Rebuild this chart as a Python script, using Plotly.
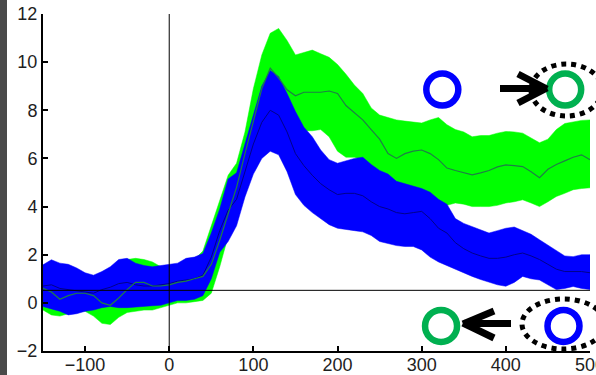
import plotly.graph_objects as go

# ---------------- data ----------------
t = list(range(-150, 501, 10))

blue_upper = [1.58, 1.79, 1.65, 1.6, 1.45, 1.25, 1.15, 1.3, 1.5, 1.8,
              1.85, 1.65, 1.55, 1.5, 1.55, 1.6, 1.65, 1.85, 1.9, 2.05,
              2.9, 3.9, 5.15, 5.4, 6.6, 7.8, 9.0, 9.65, 9.4, 8.7,
              7.95, 7.3, 6.9, 6.35, 5.95, 5.8, 5.9, 6.0, 6.05, 5.75,
              5.5, 5.35, 5.05, 4.95, 4.85, 4.75, 4.6, 4.3, 4.1, 3.5,
              3.3, 3.17, 3.05, 2.9, 3.0, 3.1, 3.15, 3.0, 2.85, 2.62,
              2.4, 2.15, 1.95, 1.92, 2.0, 2.0]
blue_lower = [-0.15, -0.25, -0.35, -0.5, -0.45, -0.35, -0.3, -0.2, -0.15, -0.2,
              -0.2, -0.15, -0.15, -0.12, -0.1, 0.0, 0.1, 0.1, 0.15, 0.3,
              1.0, 2.1, 2.55, 3.2, 4.4, 5.35, 6.0, 6.3, 6.15, 5.45,
              4.5, 4.05, 3.75, 3.5, 3.25, 3.1, 3.05, 3.0, 2.95, 2.8,
              2.55, 2.45, 2.38, 2.34, 2.34, 2.2, 1.9, 1.7, 1.55, 1.4,
              1.25, 1.1, 0.97, 0.85, 0.75, 0.69, 0.85, 1.1, 1.0, 0.95,
              0.75, 0.55, 0.6, 0.68, 0.6, 0.55]
blue_mean = [0.7, 0.75, 0.6, 0.55, 0.5, 0.45, 0.4, 0.55, 0.65, 0.8,
             0.85, 0.75, 0.7, 0.7, 0.75, 0.8, 0.9, 0.95, 1.0, 1.15,
             1.9, 3.0, 3.85, 4.3, 5.5, 6.6, 7.5, 8.0, 7.8, 7.1,
             6.2, 5.7, 5.3, 4.95, 4.7, 4.5, 4.55, 4.55, 4.45, 4.2,
             4.0, 3.9, 3.75, 3.7, 3.75, 3.8, 3.5, 3.1, 2.9, 2.5,
             2.25, 2.07, 1.95, 1.85, 1.85, 1.9, 2.0, 2.07, 1.95, 1.8,
             1.6, 1.4, 1.3, 1.3, 1.3, 1.25]

green_upper = [1.4, 1.5, 1.45, 1.3, 1.25, 1.15, 1.1, 1.2, 1.4, 1.5,
               1.8, 1.85, 1.8, 1.7, 1.5, 1.55, 1.6, 1.7, 1.8, 2.15,
               3.2, 4.3, 5.3, 5.8, 7.1, 8.9, 10.3, 11.2, 11.4, 10.9,
               10.3, 10.4, 10.5, 10.35, 10.2, 9.9, 9.5, 9.05, 8.7, 8.1,
               7.8, 7.7, 7.6, 7.55, 7.5, 7.47, 7.6, 7.7, 7.4, 7.2,
               7.1, 6.9, 6.95, 6.95, 7.05, 7.12, 7.1, 7.05, 6.85, 6.65,
               6.8, 7.2, 7.45, 7.53, 7.58, 7.6]
green_lower = [-0.3, -0.5, -0.55, -0.45, -0.35, -0.35, -0.55, -0.85, -0.9, -0.6,
               -0.4, -0.35, -0.3, -0.3, -0.2, -0.1, 0.0, 0.0, 0.05, 0.1,
               0.4, 1.5, 2.8, 4.0, 5.3, 6.5, 7.4, 7.8, 7.7, 7.4,
               7.2, 7.15, 7.15, 7.2, 6.9, 6.3, 6.05, 6.05, 5.95, 5.7,
               5.35, 5.2, 4.9, 4.85, 4.75, 4.65, 4.5, 4.25, 4.05, 4.15,
               4.1, 4.0, 4.0, 4.0, 4.05, 4.15, 4.2, 4.28, 4.15, 4.0,
               4.2, 4.42, 4.55, 4.7, 4.75, 4.78]
green_mean = [0.6, 0.45, 0.15, 0.3, 0.4, 0.4, 0.3, 0.0, -0.1, 0.2,
              0.55, 0.85, 0.85, 0.7, 0.7, 0.75, 0.85, 0.9, 1.0, 1.1,
              1.6, 2.6, 3.7, 4.8, 6.2, 7.6, 8.9, 9.75, 9.35, 8.85,
              8.6, 8.75, 8.75, 8.75, 8.8, 8.7, 8.2, 7.9, 7.6, 7.2,
              6.8, 6.2, 6.0, 6.2, 6.3, 6.35, 6.2, 5.95, 5.6, 5.5,
              5.4, 5.32, 5.4, 5.5, 5.65, 5.73, 5.7, 5.66, 5.45, 5.2,
              5.55, 5.75, 5.9, 6.05, 6.15, 5.95]

x_ticks = [-100, 0, 100, 200, 300, 400, 500]
y_ticks = [-2, 0, 2, 4, 6, 8, 10, 12]
baseline_level = 0.52

# marker annotation positions (data coords)
ring_x_top = [324.5, 470.5]
ring_y_top = [8.86, 8.86]
ring_x_bot = [323.0, 468.5]
ring_y_bot = [-0.96, -0.96]

# ---------------- layout geometry ----------------
W, H = 596, 375
ML, MR, MT, MB = 43, 6, 14, 24
PW, PH = W - ML - MR, H - MT - MB


def px(xp):
    return (xp - ML) / PW


def py(yp):
    return (H - MB - yp) / PH


BLUE = "#0000FF"
GREEN = "#00FF00"
RING_GREEN = "#00B050"

fig = go.Figure()

# green band
fig.add_trace(go.Scatter(x=t + t[::-1], y=green_upper + green_lower[::-1],
                         fill="toself", fillcolor=GREEN, mode="lines",
                         line=dict(color=GREEN, width=0.5),
                         hoverinfo="skip", showlegend=False))
# blue band
fig.add_trace(go.Scatter(x=t + t[::-1], y=blue_upper + blue_lower[::-1],
                         fill="toself", fillcolor=BLUE, mode="lines",
                         line=dict(color=BLUE, width=0.5),
                         hoverinfo="skip", showlegend=False))
# means
fig.add_trace(go.Scatter(x=t, y=blue_mean, mode="lines",
                         line=dict(color="#00008a", width=1),
                         hoverinfo="skip", showlegend=False))
fig.add_trace(go.Scatter(x=t, y=green_mean, mode="lines",
                         line=dict(color="#1e7f46", width=1.2),
                         hoverinfo="skip", showlegend=False))

# rings
fig.add_trace(go.Scatter(x=ring_x_top, y=ring_y_top, mode="markers",
                         marker=dict(symbol="circle-open", size=32,
                                     color=[BLUE, RING_GREEN],
                                     line=dict(width=6.5, color=[BLUE, RING_GREEN])),
                         hoverinfo="skip", showlegend=False, cliponaxis=False))
fig.add_trace(go.Scatter(x=ring_x_bot, y=ring_y_bot, mode="markers",
                         marker=dict(symbol="circle-open", size=32,
                                     color=[RING_GREEN, BLUE],
                                     line=dict(width=6.5, color=[RING_GREEN, BLUE])),
                         hoverinfo="skip", showlegend=False, cliponaxis=False))

shapes = []
# reference lines
shapes.append(dict(type="line", xref="x", yref="paper", x0=0, x1=0, y0=0, y1=1,
                   line=dict(color="black", width=1)))
shapes.append(dict(type="line", xref="paper", yref="y", x0=0, x1=1,
                   y0=baseline_level, y1=baseline_level,
                   line=dict(color="black", width=1)))
# dotted ellipses
shapes.append(dict(type="circle", xref="paper", yref="paper",
                   x0=px(531), x1=px(602), y0=py(116), y1=py(64),
                   line=dict(color="black", width=5, dash="dot")))
shapes.append(dict(type="circle", xref="paper", yref="paper",
                   x0=px(522), x1=px(605), y0=py(349), y1=py(299),
                   line=dict(color="black", width=5, dash="dot")))


def seg(x0, y0, x1, y1, w=7):
    return dict(type="line", xref="paper", yref="paper",
                x0=px(x0), y0=py(y0), x1=px(x1), y1=py(y1),
                line=dict(color="black", width=w))


# top arrow (pointing right)
shapes += [seg(500, 88.5, 545, 88.5), seg(518, 74, 547, 89), seg(518, 103, 547, 88)]
# bottom arrow (pointing left)
shapes += [seg(511, 323.5, 465, 323.5), seg(494, 311, 463, 324), seg(494, 338, 463, 323)]
# dark slide strip on the left
shapes.append(dict(type="rect", xref="paper", yref="paper",
                   x0=px(0), x1=px(7), y0=py(H), y1=py(0),
                   fillcolor="#4a4a4a", line=dict(width=0), layer="above"))

axis_common = dict(showline=True, linecolor="black", linewidth=2,
                   ticks="inside", ticklen=5, tickcolor="black", tickwidth=1.5,
                   showgrid=False, zeroline=False, ticklabeloverflow="allow",
                   automargin=False,
                   tickfont=dict(family="Liberation Sans, Arial", size=18, color="#1e1e1e"))

fig.update_layout(
    width=W, height=H,
    margin=dict(l=ML, r=MR, t=MT, b=MB, pad=0, autoexpand=False),
    paper_bgcolor="white", plot_bgcolor="white",
    showlegend=False,
    xaxis=dict(range=[-150, 500], tickvals=x_ticks, ticklabelstandoff=-4, **axis_common),
    yaxis=dict(range=[-2, 12], tickvals=y_ticks, **axis_common),
    shapes=shapes,
)

fig.write_html("out.html")
